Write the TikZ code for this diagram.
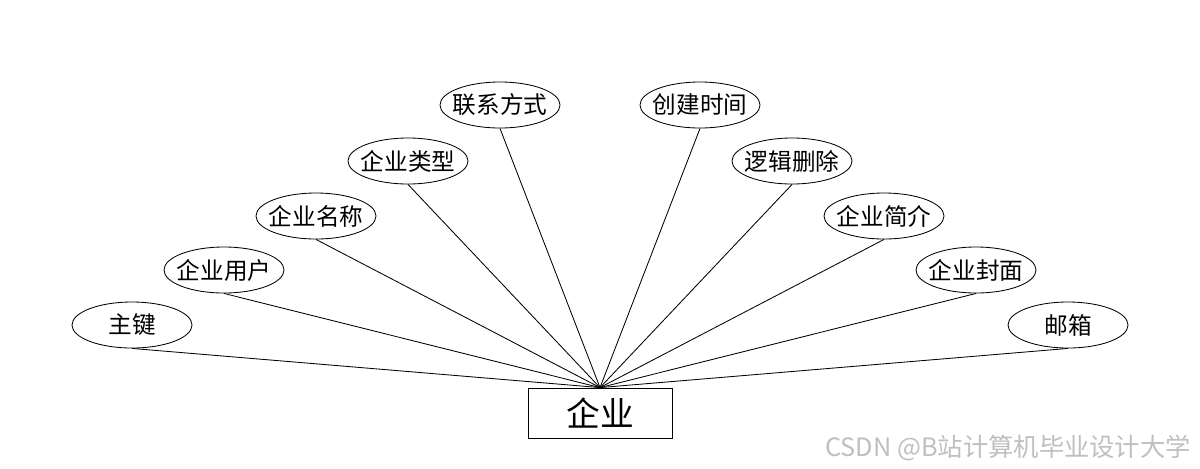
\documentclass[tikz,border=0pt]{standalone}
\usepackage{fontspec}
\setmainfont{Noto Sans CJK SC}
\usetikzlibrary{shapes.geometric}

\begin{document}
\begin{tikzpicture}[x=0.025cm, y=-0.025cm, line width=0.6pt, attr_node/.style={ellipse,draw,minimum width=3cm,minimum height=1.15cm,inner xsep=-4pt,inner ysep=0pt,font=\fontsize{16.8}{19}\selectfont}, entity_node/.style={rectangle,draw,minimum width=3.6cm,minimum height=1.25cm,inner sep=0pt,font=\fontsize{24}{27}\selectfont}]
				\useasboundingbox (0,0) rectangle (1200,468);
				\node[entity_node](0) at (600,413){企业};
				\node[attr_node](1) at (132,325){主键};
				\node[attr_node](2) at (224,270){企业用户};
				\node[attr_node](3) at (316,216){企业名称};
				\node[attr_node](4) at (408,161){企业类型};
				\node[attr_node](5) at (500,105){联系方式};
				\node[attr_node](6) at (700,105){创建时间};
				\node[attr_node](7) at (792,161){逻辑删除};
				\node[attr_node](8) at (884,216){企业简介};
				\node[attr_node](9) at (976,270){企业封面};
				\node[attr_node](10) at (1068,325){邮箱};
				\draw (1.south) -- (0.north);
				\draw (2.south) -- (0.north);
				\draw (3.south) -- (0.north);
				\draw (4.south) -- (0.north);
				\draw (5.south) -- (0.north);
				\draw (6.south) -- (0.north);
				\draw (7.south) -- (0.north);
				\draw (8.south) -- (0.north);
				\draw (9.south) -- (0.north);
				\draw (10.south) -- (0.north);
				\node[anchor=east, text=black!25, font=\fontsize{18}{20}\selectfont](11) at (1196,448){CSDN @B站计算机毕业设计大学};
			\end{tikzpicture}
\end{document}
